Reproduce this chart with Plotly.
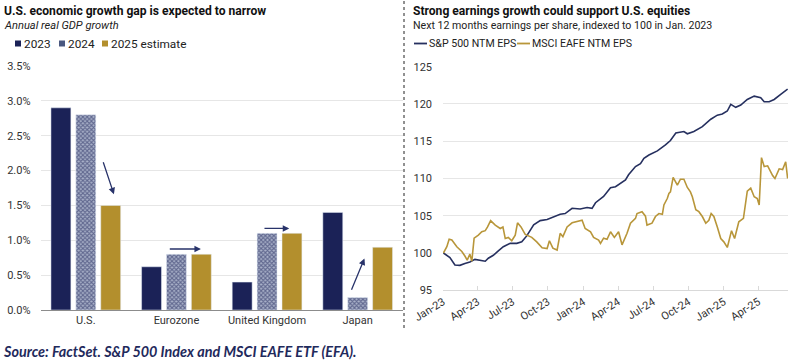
import plotly.graph_objects as go

# ---------------- Left chart data ----------------
regions = ["U.S.", "Eurozone", "United Kingdom", "Japan"]
gdp_2023 = [2.9, 0.62, 0.4, 1.4]
gdp_2024 = [2.8, 0.8, 1.1, 0.18]
gdp_2025 = [1.5, 0.8, 1.1, 0.9]
gdp_ticks = [0.0, 0.5, 1.0, 1.5, 2.0, 2.5, 3.0, 3.5]
gdp_ticktext = ["0.0%", "0.5%", "1.0%", "1.5%", "2.0%", "2.5%", "3.0%", "3.5%"]

# ---------------- Right chart data ----------------
sp_dates = ["2023-01-02", "2023-01-19", "2023-02-01", "2023-02-14", "2023-02-27", "2023-03-12",
            "2023-03-25", "2023-04-08", "2023-04-21", "2023-04-29", "2023-05-12", "2023-05-25",
            "2023-06-07", "2023-06-25", "2023-07-12", "2023-07-25", "2023-08-07", "2023-08-25",
            "2023-09-11", "2023-09-29", "2023-10-16", "2023-11-02", "2023-11-15", "2023-12-03",
            "2023-12-24", "2024-01-11", "2024-01-24", "2024-02-02", "2024-02-23", "2024-03-12",
            "2024-03-25", "2024-04-07", "2024-04-20", "2024-04-28", "2024-05-16", "2024-05-29",
            "2024-06-07", "2024-06-20", "2024-07-12", "2024-08-02", "2024-08-15", "2024-08-29",
            "2024-09-19", "2024-09-28", "2024-10-15", "2024-11-06", "2024-11-28", "2024-12-15",
            "2024-12-28", "2025-01-10", "2025-01-19", "2025-02-01", "2025-02-14", "2025-03-03",
            "2025-03-21", "2025-04-07", "2025-04-16", "2025-04-29", "2025-05-12", "2025-05-29",
            "2025-06-16"]
sp_eps = [100.0, 99.4, 98.4, 98.35, 98.6, 98.8,
          99.15, 99.0, 98.9, 99.3, 99.7, 100.3,
          100.85, 101.3, 101.3, 101.5, 102.3, 103.8,
          104.35, 104.5, 104.9, 105.2, 105.3, 106.0,
          105.9, 106.1, 106.0, 106.75, 107.6, 108.75,
          108.9, 109.4, 109.8, 110.5, 111.6, 112.0,
          112.7, 113.15, 113.7, 114.5, 115.1, 116.1,
          116.3, 116.0, 116.3, 116.95, 117.95, 118.5,
          118.65, 119.05, 119.95, 119.55, 119.85, 120.6,
          121.05, 120.85, 120.3, 120.3, 120.6, 121.3,
          122.0]

eafe_dates = ["2023-01-02", "2023-01-11", "2023-01-17", "2023-01-24", "2023-02-06", "2023-02-19",
              "2023-02-27", "2023-03-05", "2023-03-12", "2023-03-17", "2023-03-23", "2023-04-03",
              "2023-04-12", "2023-04-21", "2023-04-27", "2023-05-05", "2023-05-17", "2023-05-30",
              "2023-06-06", "2023-06-12", "2023-06-20", "2023-06-29", "2023-07-08", "2023-07-14",
              "2023-07-23", "2023-08-03", "2023-08-20", "2023-09-02", "2023-09-16", "2023-09-29",
              "2023-10-05", "2023-10-14", "2023-10-25", "2023-11-02", "2023-11-09", "2023-11-20",
              "2023-12-03", "2023-12-16", "2023-12-29", "2024-01-06", "2024-01-20", "2024-01-28",
              "2024-02-10", "2024-02-15", "2024-02-23", "2024-03-03", "2024-03-12", "2024-03-22",
              "2024-04-02", "2024-04-11", "2024-04-24", "2024-05-03", "2024-05-16", "2024-05-20",
              "2024-06-02", "2024-06-11", "2024-06-15", "2024-06-28", "2024-07-07", "2024-07-16",
              "2024-07-25", "2024-07-29", "2024-08-07", "2024-08-11", "2024-08-15", "2024-08-22",
              "2024-09-02", "2024-09-10", "2024-09-19", "2024-09-28", "2024-10-06", "2024-10-11",
              "2024-10-20", "2024-10-28", "2024-11-06", "2024-11-15", "2024-11-23", "2024-11-29",
              "2024-12-06", "2024-12-15", "2024-12-24", "2025-01-01", "2025-01-10", "2025-01-21",
              "2025-01-29", "2025-02-09", "2025-02-21", "2025-03-03", "2025-03-12", "2025-03-21",
              "2025-03-29", "2025-04-03", "2025-04-09", "2025-04-16", "2025-04-25", "2025-05-08",
              "2025-05-14", "2025-05-25", "2025-06-03", "2025-06-11", "2025-06-16"]
eafe_eps = [100.0, 100.85, 101.85, 101.75, 100.85, 100.2,
            99.6, 99.05, 99.85, 98.9, 102.0, 102.4,
            102.85, 103.0, 103.5, 104.35, 103.75, 103.3,
            103.5, 101.95, 102.1, 101.65, 102.4, 104.05,
            103.5, 102.5, 102.1, 101.5, 100.7, 100.6,
            101.65, 100.65, 100.4, 102.65, 102.2, 103.5,
            104.05, 104.2, 104.4, 103.3, 102.85, 102.1,
            101.75, 101.3, 102.0, 101.85, 102.85, 102.1,
            102.85, 101.1, 102.65, 104.0, 104.65, 105.3,
            105.55, 104.95, 103.75, 104.0, 104.9, 105.3,
            105.2, 106.45, 107.35, 108.0, 108.2, 110.15,
            109.1, 109.9, 109.9, 108.8, 108.2, 107.55,
            105.8, 105.55, 104.9, 104.0, 104.4, 105.3,
            104.9, 103.5, 101.95, 101.5, 100.75, 103.0,
            101.95, 104.2, 104.65, 108.3, 108.7, 107.55,
            107.3, 106.45, 112.8, 111.6, 111.7, 110.4,
            110.0, 111.3, 111.2, 112.25, 110.0]
eps_ticks = [95, 100, 105, 110, 115, 120, 125]

NAVY = "#1b2257"
GOLD = "#b38f2d"
LINE_NAVY = "#26305f"
LINE_GOLD = "#b8963a"
GRID = "#e6e6e6"
TXT = "#333333"
FONT = "Roboto"

W, H = 804, 363
def px_x(p): return p / W
def px_y(p): return 1 - p / H

fig = go.Figure()

fig.add_trace(go.Bar(x=regions, y=gdp_2023, name="2023", marker_color=NAVY,
                     xaxis="x", yaxis="y", showlegend=False))
fig.add_trace(go.Bar(x=regions, y=gdp_2024, name="2024",
                     marker=dict(color="#8e98b6", pattern=dict(shape="x", fgcolor=NAVY, bgcolor="#a9b1c9",
                                                             size=3, solidity=0.6)),
                     xaxis="x", yaxis="y", showlegend=False))
fig.add_trace(go.Bar(x=regions, y=gdp_2025, name="2025 estimate", marker_color=GOLD,
                     xaxis="x", yaxis="y", showlegend=False))

fig.add_trace(go.Scatter(x=sp_dates, y=sp_eps, mode="lines", name="S&P 500 NTM EPS",
                         line=dict(color=LINE_NAVY, width=1.6), xaxis="x2", yaxis="y2", showlegend=False))
fig.add_trace(go.Scatter(x=eafe_dates, y=eafe_eps, mode="lines", name="MSCI EAFE NTM EPS",
                         line=dict(color=LINE_GOLD, width=1.6), xaxis="x2", yaxis="y2", showlegend=False))

annotations = []
shapes = []

def text(x, y, s, size=11, color=TXT, bold=False, italic=False, family=FONT):
    st = s
    if bold:
        st = "<b>" + st + "</b>"
    if italic:
        st = "<i>" + st + "</i>"
    annotations.append(dict(x=px_x(x), y=px_y(y), xref="paper", yref="paper", text=st,
                            showarrow=False, xanchor="left", yanchor="middle",
                            xshift=-2, font=dict(size=size, color=color, family=family)))

# Titles
text(4, 11, "U.S. economic growth gap is expected to narrow", size=12.1, color="#111111", bold=True)
text(4, 25, "Annual real GDP growth", size=11.1, color="#222222", italic=True)
text(413, 11, "Strong earnings growth could support U.S. equities", size=12.1, color="#111111", bold=True)
text(413, 25, "Next 12 months earnings per share, indexed to 100 in Jan. 2023", size=10.6, color="#222222")

# Left legend
leg = [(15, NAVY, "2023"), (59, "#4a5880", "2024"), (102, GOLD, "2025 estimate")]
for x0, c, s in leg:
    shapes.append(dict(type="rect", xref="paper", yref="paper", x0=px_x(x0), x1=px_x(x0 + 6),
                       y0=px_y(46.5), y1=px_y(40.5), fillcolor=c, line=dict(width=0)))
    text(x0 + 9, 43.5, s, size=11.8, color="#222222")

# Right legend
for x0, c, s in [(414, LINE_NAVY, "S&P 500 NTM EPS"), (517, LINE_GOLD, "MSCI EAFE NTM EPS")]:
    shapes.append(dict(type="line", xref="paper", yref="paper", x0=px_x(x0), x1=px_x(x0 + 13),
                       y0=px_y(43.5), y1=px_y(43.5), line=dict(color=c, width=1.8)))
    text(x0 + 15, 43.5, s, size=10.6, color="#222222")

# Divider
shapes.append(dict(type="line", xref="paper", yref="paper", x0=px_x(404), x1=px_x(404),
                   y0=px_y(1), y1=px_y(330), line=dict(color="#222222", width=1, dash="dot")))

# Source
text(3, 351, "Source: FactSet. S&P 500 Index and MSCI EAFE ETF (EFA).", size=14.4,
     color="#1f2a5c", italic=True, bold=True, family="Lato")

# Arrows on bar chart
arrows = [((0.187, 2.14), (0.31, 1.66)),
          ((0.91, 0.875), (1.27, 0.875)),
          ((1.955, 1.17), (2.245, 1.17)),
          ((2.925, 0.27), (3.075, 0.74))]
for (tx, ty), (hx, hy) in arrows:
    annotations.append(dict(x=hx, y=hy, ax=tx, ay=ty, xref="x", yref="y", axref="x", ayref="y",
                            showarrow=True, arrowhead=2, arrowsize=1, arrowwidth=1.3,
                            arrowcolor="#28336a", text=""))

fig.update_layout(
    width=W, height=H, autosize=False,
    margin=dict(l=0, r=0, t=0, b=0, pad=0),
    paper_bgcolor="white", plot_bgcolor="white",
    font=dict(family=FONT, size=11, color=TXT),
    barmode="group", bargap=0.176, bargroupgap=0.2,
    annotations=annotations, shapes=shapes,
    xaxis=dict(domain=[px_x(40.5), px_x(403)], range=[-0.5, 3.5], type="category",
               showline=True, linecolor="#8c8c8c", linewidth=1, ticks="", automargin=False,
               tickfont=dict(size=11, color=TXT), showgrid=False),
    yaxis=dict(domain=[px_y(310), px_y(66)], range=[0, 3.5], tickvals=gdp_ticks, automargin=False,
               ticktext=gdp_ticktext, showgrid=True, gridcolor=GRID, gridwidth=1,
               zeroline=False, tickfont=dict(size=11, color=TXT), ticklabelstandoff=9),
    xaxis2=dict(domain=[px_x(443), px_x(788)], range=["2023-01-01", "2025-06-17"], type="date",
                tick0="2023-01-01", dtick="M3", tickformat="%b-%y", tickangle=-32, automargin=False,
                showline=True, linecolor="#d9d9d9", ticks="inside", ticklen=4, tickcolor="#d9d9d9",
                showgrid=False, tickfont=dict(size=11, color=TXT), anchor="y2"),
    yaxis2=dict(domain=[px_y(290.3), px_y(66.7)], range=[95, 125], tickvals=eps_ticks, automargin=False,
                showgrid=True, gridcolor=GRID, gridwidth=1, zeroline=False,
                tickfont=dict(size=11, color=TXT), anchor="x2", ticklabelstandoff=10),
)

fig.write_html("out.html", config={"displayModeBar": False},
               post_script="document.body.style.margin='0px';document.body.style.overflow='hidden';")
